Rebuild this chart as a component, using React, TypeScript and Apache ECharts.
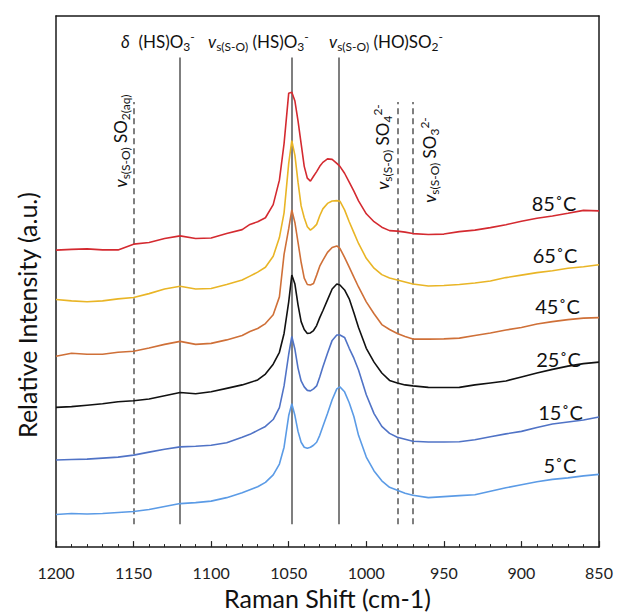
import React, { useEffect, useRef } from "react";
import * as echarts from "echarts";

// Raman shift positions (cm-1) at which the spectra were read
const ramanShift = [
  1200, 1190, 1180, 1170, 1160, 1150, 1140, 1130, 1120, 1110, 1100, 1090, 1080,
  1075, 1070, 1065, 1060, 1056, 1053,
  1050, 1048, 1046, 1044, 1042, 1040, 1038, 1036, 1034, 1032, 1030, 1028,
  1025, 1022, 1019, 1017, 1014, 1011, 1008, 1005,
  1000, 995, 990, 985, 980, 975, 970,
  960, 950, 940, 930, 920, 910, 900, 890, 880, 870, 860, 850,
];

// Offset intensities (a.u.) for each temperature
const t5 = [
  33, 34, 33.5, 34, 35, 36, 38, 41, 44, 45, 46.5, 50, 55,
  58, 61, 65.5, 73, 84, 101,
  133, 145, 133, 117, 106, 101, 100, 101, 103, 106, 113, 122,
  135, 149, 160, 162, 157, 146, 132, 113,
  91, 77, 67, 60.5, 57.5, 54.5, 52.5,
  50, 51, 52, 53, 56.5, 60, 63, 66, 68.5, 70, 72, 73.5,
];
const t15 = [
  88, 88.5, 89, 90, 91, 93, 96, 99, 101.3, 102, 103, 105.5, 111,
  114, 118, 122, 129, 141, 163,
  195, 213, 200, 181, 168, 162, 158.5, 158, 160, 163, 172, 182,
  196, 209, 214.5, 214.5, 212, 201, 191, 179,
  154, 135, 122, 115, 111, 109, 107,
  106.3, 106.3, 106.5, 108.5, 111.5, 114.5, 117, 121, 124.5, 126.5, 128.5, 131.5,
];
const t25 = [
  141.3, 142, 143.5, 145, 147, 148, 149.7, 153, 156.3, 155, 157, 160.5, 164,
  166.5, 169, 175, 185, 197, 216,
  248, 275, 266, 245, 228, 220, 216, 216.5, 219, 224, 232, 239,
  250, 261, 266, 265, 260, 251, 237, 222,
  201, 187, 176, 168.5, 166, 164, 163,
  161.5, 161.3, 161.5, 164, 166, 168, 172, 176, 179.7, 183, 185.5, 187,
];
const t45 = [
  193, 196, 195, 195, 197, 198, 201.3, 205, 208, 205, 206, 209.5, 214,
  218, 221, 226, 235, 253, 296,
  322, 341, 328, 308, 288, 272, 265.5, 265, 266.5, 275, 284, 290,
  298, 303, 304.5, 302, 293, 283, 273, 263,
  248, 236, 225, 220, 216, 213, 210.3,
  210.3, 210.5, 211.3, 214, 216.5, 219.5, 222, 225.5, 228, 230, 231.5, 232,
];
const t65 = [
  250.3, 249, 248, 249, 251, 252.3, 256.3, 261, 263.7, 261, 261.5, 265.5, 270,
  274, 278, 283, 294, 313, 338,
  388, 411, 396, 369, 345, 333, 324, 320.5, 323, 326.3, 335, 342,
  347.5, 350, 350.3, 349.7, 341, 329, 318, 307,
  292, 282, 275.5, 272, 270, 268, 266,
  264, 264.5, 265.5, 267, 269, 272.5, 275, 277.5, 279.5, 282, 283.5, 285.5,
];
const t85 = [
  300.3, 301, 301.5, 300.5, 300.5, 306.3, 308, 312, 314.7, 312, 312.5, 317, 321,
  326.3, 329, 333, 346.3, 371, 408,
  459, 460, 451, 431, 408, 385, 373, 370, 375, 379.7, 385, 389,
  392.5, 392, 388, 385, 378, 369, 360, 350,
  337, 329, 323.5, 320, 319.5, 318.5, 317,
  316, 316.5, 319, 320.5, 323, 326, 329.5, 332.5, 334.7, 337.5, 340.5, 340,
];

const seriesNames = ["5˚C", "15˚C", "25˚C", "45˚C", "65˚C", "85˚C"];
const seriesValues = [t5, t15, t25, t45, t65, t85];
const seriesColors = ["#5b9be6", "#5073c6", "#111111", "#cf7038", "#e9b526", "#d42a30"];

// Reference band positions (cm-1)
const solidRefLines = [1120, 1048, 1017.5];
const dashedRefLines = [1150, 980, 970];

const FONT = "Lato, 'Open Sans', 'DejaVu Sans', sans-serif";

const richStyles = {
  n: { fontSize: 17, fontFamily: FONT, fill: "#111" },
  i: { fontSize: 17, fontFamily: FONT, fontStyle: "italic", fill: "#111" },
  sub: { fontSize: 12, fontFamily: FONT, height: 12, verticalAlign: "bottom", fill: "#111" },
  sup: { fontSize: 12, fontFamily: FONT, height: 12, verticalAlign: "top", fill: "#111" },
};

function richText(text: string, x: number, y: number, align: string, rotation = 0) {
  return {
    type: "text",
    x,
    y,
    rotation,
    silent: true,
    style: {
      text,
      rich: richStyles,
      fontSize: 17,
      fontFamily: FONT,
      lineHeight: 22,
      fill: "#111",
      align,
      verticalAlign: "middle",
      textAlign: align,
      textVerticalAlign: "middle",
    },
  };
}

function plainText(text: string, x: number, y: number, size: number, rotation = 0) {
  return {
    type: "text",
    x,
    y,
    rotation,
    silent: true,
    style: {
      text,
      fontSize: size,
      fontFamily: FONT,
      fill: "#111",
      align: "center",
      verticalAlign: "middle",
      textAlign: "center",
      textVerticalAlign: "middle",
    },
  };
}

const tempLabelPos: [number, number][] = [
  [560, 465],
  [560.5, 411.5],
  [558.5, 358.5],
  [557.5, 305.5],
  [555, 255],
  [554, 203],
];

const FRAME_COLOR = "#1a1a1a";
const frameAxisLine = { show: true, onZero: false, lineStyle: { color: FRAME_COLOR, width: 1.5 } };

export default function App() {
  const ref = useRef<HTMLDivElement>(null);

  useEffect(() => {
    if (!ref.current) return;
    const chart = echarts.init(ref.current, undefined, { renderer: "svg" });

    const refBottom = 23;
    const solidTop = 495;
    const dashedTop = 450;

    const markData: any[] = [
      ...solidRefLines.map((x) => [
        { coord: [x, refBottom], lineStyle: { type: "solid", color: "#555", width: 1.5 } },
        { coord: [x, solidTop] },
      ]),
      ...dashedRefLines.map((x) => [
        { coord: [x, refBottom], lineStyle: { type: [6, 4], color: "#555", width: 1.5 } },
        { coord: [x, dashedTop] },
      ]),
    ];

    const series: any[] = seriesNames.map((name, i) => ({
      type: "line",
      name,
      xAxisIndex: 0,
      yAxisIndex: 0,
      data: ramanShift.map((x, j) => [x, seriesValues[i][j]]),
      showSymbol: false,
      symbol: "none",
      smooth: false,
      lineStyle: { color: seriesColors[i], width: 1.6 },
      itemStyle: { color: seriesColors[i] },
      z: 3,
      ...(i === 0
        ? {
            markLine: {
              silent: true,
              symbol: ["none", "none"],
              label: { show: false },
              animation: false,
              z: 1,
              data: markData,
            },
          }
        : {}),
    }));

    const graphic: any[] = [
      richText("{i|δ}{n|  (HS)O}{sub|3}{sup|-}", 121, 41, "left"),
      richText("{i|v}{sub|s(S-O)}{n| (HS)O}{sub|3}{sup|-}", 208, 41, "left"),
      richText("{i|v}{sub|s(S-O)}{n| (HO)SO}{sub|2}{sup|-}", 329, 41, "left"),
      richText("{i|v}{sub|s(S-O)}{n| SO}{sub|2(aq)}", 120, 141, "center", Math.PI / 2),
      richText("{i|v}{sub|s(S-O)}{n| SO}{sub|4}{sup|2-}", 382, 147, "center", Math.PI / 2),
      richText("{i|v}{sub|s(S-O)}{n| SO}{sub|3}{sup|2-}", 429, 160, "center", Math.PI / 2),
      plainText("Relative Intensity (a.u.)", 27, 315, 25, Math.PI / 2),
      ...seriesNames.map((n, i) => plainText(n, tempLabelPos[i][0], tempLabelPos[i][1], 20)),
    ];

    chart.setOption({
      animation: false,
      backgroundColor: "#ffffff",
      grid: {
        left: 56,
        right: 18,
        top: 16,
        bottom: 62,
        show: false,
      },
      xAxis: [
        {
          type: "value",
          position: "bottom",
          min: 850,
          max: 1200,
          interval: 50,
          inverse: true,
          name: "Raman Shift (cm-1)",
          nameLocation: "middle",
          nameGap: 33,
          nameTextStyle: { fontSize: 25, fontFamily: FONT, color: "#111" },
          axisLine: frameAxisLine,
          axisTick: { show: true, inside: true, length: 6, lineStyle: { color: "#222", width: 1.2 } },
          minorTick: { show: true, splitNumber: 5, length: 3, lineStyle: { color: "#222", width: 1 } },
          splitLine: { show: false },
          minorSplitLine: { show: false },
          axisLabel: {
            fontSize: 16,
            fontFamily: FONT,
            color: "#222",
            margin: 17,
            formatter: (v: number) => String(v),
          },
        },
        {
          type: "value",
          position: "top",
          min: 850,
          max: 1200,
          inverse: true,
          axisLine: frameAxisLine,
          axisTick: { show: false },
          axisLabel: { show: false },
          splitLine: { show: false },
        },
      ],
      yAxis: [
        {
          type: "value",
          position: "left",
          min: 0,
          max: 537,
          axisLine: frameAxisLine,
          axisTick: { show: false },
          axisLabel: { show: false },
          splitLine: { show: false },
        },
        {
          type: "value",
          position: "right",
          min: 0,
          max: 537,
          axisLine: frameAxisLine,
          axisTick: { show: false },
          axisLabel: { show: false },
          splitLine: { show: false },
        },
      ],
      series,
      graphic,
    });

    return () => chart.dispose();
  }, []);

  return (
    <div
      ref={ref}
      style={{ position: "absolute", left: 0, top: 0, width: 617, height: 615 }}
    />
  );
}
